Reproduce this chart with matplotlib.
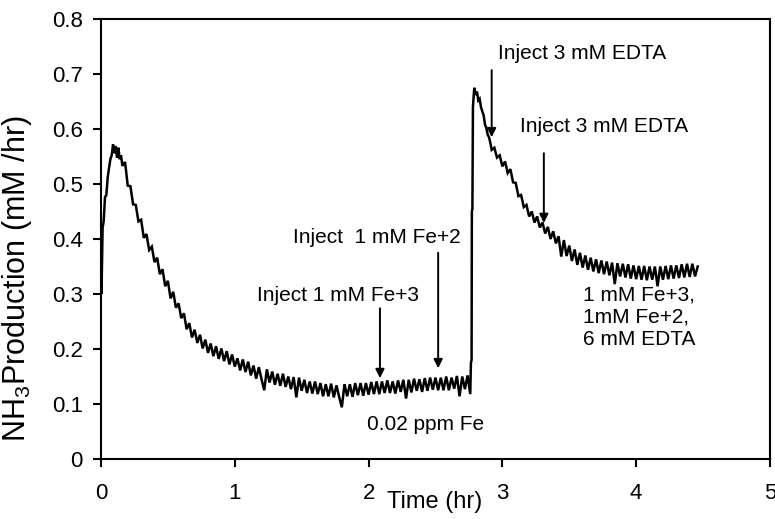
import matplotlib
matplotlib.use("Agg")
import matplotlib.pyplot as plt

plt.rcParams['font.family'] = ['Liberation Sans', 'DejaVu Sans']
plt.rcParams['mathtext.fontset'] = 'custom'
plt.rcParams['mathtext.rm'] = 'Liberation Sans'
plt.rcParams['mathtext.default'] = 'regular'

# ---- data (time in hr, NH3 production in mM/hr) ----
time_rise = [0.0, 0.004, 0.008, 0.012, 0.02, 0.03, 0.04, 0.05, 0.06, 0.07, 0.08,
             0.09, 0.10, 0.11, 0.12, 0.13, 0.14, 0.15]
nh3_rise = [0.320, 0.300, 0.360, 0.420, 0.432, 0.476, 0.480, 0.512, 0.528, 0.545,
            0.552, 0.572, 0.556, 0.569, 0.548, 0.566, 0.545, 0.552]

time_decay1 = [0.16, 0.18, 0.20, 0.22, 0.24, 0.26, 0.28, 0.30, 0.32, 0.34, 0.36, 0.38,
               0.40, 0.42, 0.44, 0.46, 0.48, 0.50, 0.52, 0.54, 0.56, 0.58, 0.60, 0.62,
               0.64, 0.66, 0.68, 0.70, 0.72, 0.74, 0.76, 0.78, 0.80, 0.82, 0.84, 0.86,
               0.88, 0.90, 0.92, 0.94, 0.96, 0.98, 1.00]
nh3_decay1 = [0.533, 0.540, 0.497, 0.496, 0.463, 0.462, 0.432, 0.435, 0.402, 0.409,
              0.380, 0.386, 0.358, 0.366, 0.336, 0.345, 0.314, 0.324, 0.292, 0.304,
              0.275, 0.283, 0.256, 0.265, 0.236, 0.247, 0.221, 0.235, 0.211, 0.226,
              0.201, 0.217, 0.193, 0.210, 0.187, 0.205, 0.182, 0.201, 0.178, 0.196,
              0.172, 0.190, 0.168]

time_base = [1.02, 1.04, 1.06, 1.08, 1.10, 1.12, 1.14, 1.16, 1.18, 1.20, 1.22, 1.24,
             1.26, 1.28, 1.30, 1.32, 1.34, 1.36, 1.38, 1.40, 1.42, 1.44, 1.46, 1.48,
             1.50, 1.52, 1.54, 1.56, 1.58, 1.60, 1.62, 1.64, 1.66, 1.68, 1.70, 1.72,
             1.74, 1.76, 1.78, 1.80, 1.82, 1.84, 1.86, 1.88, 1.90, 1.92, 1.94, 1.96,
             1.98, 2.00, 2.02, 2.04, 2.06, 2.08, 2.10, 2.12, 2.14, 2.16, 2.18, 2.20,
             2.22, 2.24, 2.26, 2.28, 2.30, 2.32, 2.34, 2.36, 2.38, 2.40, 2.42, 2.44,
             2.46, 2.48, 2.50, 2.52, 2.54, 2.56, 2.58, 2.60, 2.62, 2.64, 2.66, 2.68,
             2.70, 2.72, 2.74, 2.76]
nh3_base = [0.183, 0.161, 0.181, 0.158, 0.177, 0.152, 0.170, 0.146, 0.167, 0.145,
            0.125, 0.163, 0.139, 0.159, 0.135, 0.155, 0.133, 0.155, 0.131, 0.150,
            0.127, 0.149, 0.112, 0.148, 0.124, 0.144, 0.120, 0.141, 0.119, 0.141,
            0.118, 0.138, 0.114, 0.136, 0.114, 0.137, 0.112, 0.134, 0.113, 0.094,
            0.136, 0.114, 0.136, 0.113, 0.138, 0.116, 0.138, 0.115, 0.138, 0.117,
            0.140, 0.118, 0.141, 0.118, 0.141, 0.120, 0.143, 0.120, 0.141, 0.119,
            0.143, 0.122, 0.144, 0.110, 0.144, 0.121, 0.146, 0.124, 0.145, 0.122,
            0.147, 0.124, 0.148, 0.126, 0.148, 0.125, 0.148, 0.125, 0.150, 0.125,
            0.148, 0.128, 0.151, 0.114, 0.150, 0.127, 0.152, 0.118]

time_jump = [2.765, 2.770, 2.772, 2.776, 2.780, 2.790, 2.800, 2.810, 2.820, 2.830,
             2.840, 2.850, 2.860, 2.870, 2.880, 2.890, 2.900, 2.910]
nh3_jump = [0.175, 0.180, 0.450, 0.455, 0.640, 0.675, 0.662, 0.668, 0.652, 0.655,
            0.640, 0.632, 0.625, 0.608, 0.602, 0.590, 0.585, 0.575]

time_decay2 = [2.92, 2.94, 2.96, 2.98, 3.00, 3.02, 3.04, 3.06, 3.08, 3.10, 3.12, 3.14,
               3.16, 3.18, 3.20, 3.22, 3.24, 3.26, 3.28, 3.30, 3.32, 3.34, 3.36, 3.38,
               3.40, 3.42, 3.44, 3.46, 3.48, 3.50, 3.52, 3.54, 3.56, 3.58, 3.60, 3.62,
               3.64, 3.66, 3.68, 3.70, 3.72, 3.74, 3.76, 3.78, 3.80, 3.82, 3.84, 3.86,
               3.88, 3.90, 3.92, 3.94, 3.96, 3.98, 4.00, 4.02, 4.04, 4.06, 4.08, 4.10,
               4.12, 4.14, 4.16, 4.18, 4.20, 4.22, 4.24, 4.26, 4.28, 4.30, 4.32, 4.34,
               4.36, 4.38, 4.40, 4.42, 4.44, 4.46]
nh3_decay2 = [0.562, 0.566, 0.548, 0.552, 0.532, 0.541, 0.520, 0.527, 0.503, 0.502,
              0.478, 0.480, 0.458, 0.462, 0.441, 0.450, 0.430, 0.441, 0.421, 0.430,
              0.410, 0.422, 0.400, 0.414, 0.392, 0.405, 0.368, 0.398, 0.369, 0.388,
              0.360, 0.381, 0.353, 0.375, 0.348, 0.370, 0.344, 0.366, 0.341, 0.363,
              0.338, 0.361, 0.336, 0.359, 0.334, 0.357, 0.318, 0.356, 0.332, 0.355,
              0.330, 0.354, 0.328, 0.352, 0.327, 0.351, 0.326, 0.351, 0.325, 0.350,
              0.326, 0.350, 0.314, 0.350, 0.326, 0.351, 0.327, 0.352, 0.328, 0.352,
              0.329, 0.354, 0.330, 0.355, 0.331, 0.355, 0.332, 0.350]

time_hr = time_rise + time_decay1 + time_base + time_jump + time_decay2
nh3 = nh3_rise + nh3_decay1 + nh3_base + nh3_jump + nh3_decay2

x_ticks = [0, 1, 2, 3, 4, 5]
y_ticks = [0, 0.1, 0.2, 0.3, 0.4, 0.5, 0.6, 0.7, 0.8]
y_tick_labels = ['0', '0.1', '0.2', '0.3', '0.4', '0.5', '0.6', '0.7', '0.8']

# annotations: (label, text x, text y, arrow x, arrow tail y, arrow tip y)
arrow_notes = [
    ('Inject 1 mM Fe+3', 1.166, 0.298, 2.085, 0.274, 0.147),
    ('Inject  1 mM Fe+2', 1.435, 0.402, 2.52, 0.375, 0.165),
    ('Inject 3 mM EDTA', 2.967, 0.738, 2.92, 0.707, 0.585),
    ('Inject 3 mM EDTA', 3.13, 0.604, 3.31, 0.556, 0.429),
]
plain_notes = [
    ('0.02 ppm Fe', 1.99, 0.062),
    ('1 mM Fe+3,\n1mM Fe+2,\n6 mM EDTA', 3.60, 0.258),
]

fig = plt.figure(figsize=(7.75, 5.19), dpi=100)
ax = fig.add_axes([0.1303, 0.1156, 0.8632, 0.8478])

ax.plot(time_hr, nh3, color='black', lw=1.8, solid_joinstyle='miter')

ax.set_xlim(0, 5)
ax.set_ylim(0, 0.8)
ax.set_xticks(x_ticks)
ax.set_xticklabels([str(v) for v in x_ticks])
ax.set_yticks(y_ticks)
ax.set_yticklabels(y_tick_labels)

for s in ax.spines.values():
    s.set_linewidth(1.5)
ax.tick_params(axis='both', direction='out', length=6, width=1.5, labelsize=16)
ax.tick_params(axis='x', pad=11)
ax.tick_params(axis='y', pad=7)

ax.set_xlabel('Time (hr)', fontsize=17)
ax.xaxis.set_label_coords(0.498, -0.072)
ax.set_ylabel('NH$_3$Production (mM /hr)', fontsize=22)
ax.yaxis.set_label_coords(-0.1, 0.41)

for label, tx, ty, ax_x, y0, y1 in arrow_notes:
    ax.text(tx, ty, label, fontsize=15, ha='left', va='center')
    ax.annotate('', xy=(ax_x, y1), xytext=(ax_x, y0),
                arrowprops=dict(arrowstyle='-|>', color='black', lw=1.4,
                                mutation_scale=13, shrinkA=0, shrinkB=0))

for label, tx, ty in plain_notes:
    ax.text(tx, ty, label, fontsize=15, ha='left', va='center', linespacing=1.2)

fig.savefig('out.png', dpi=100)
